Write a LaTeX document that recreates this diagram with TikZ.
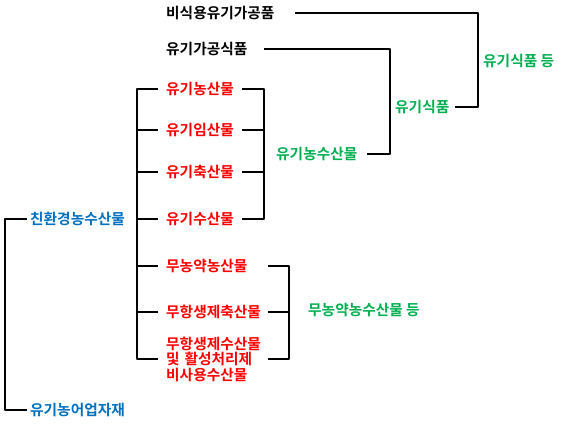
\documentclass[tikz,border=0pt]{standalone}
\usepackage{fontspec}
\setmainfont{Noto Sans CJK KR}[BoldFont={Noto Sans CJK KR Bold}]
\usepackage{tikz}
\definecolor{ecoblue}{RGB}{0,112,192}
\definecolor{orggreen}{RGB}{0,176,80}

\begin{document}
\begin{tikzpicture}[x=1pt, y=-1pt]
			\tikzstyle{label} = [anchor=west, inner sep=0pt, font=\fontsize{14.7}{15.5}\selectfont\bfseries];
			\tikzstyle{item} = [label, text=red, inner xsep=8pt];
			\tikzstyle{group} = [label, text=orggreen];
			\tikzstyle{link} = [line width=2pt, line join=round];
			\useasboundingbox (0,0) rectangle (569,430);
			\node (nonfood) [label] at (166,13) {비식용유기가공품};
			\node (procfood) [label] at (166,49) {유기가공식품};
			\node (agri) [item] at (158,89) {유기농산물};
			\node (forest) [item] at (158,130) {유기임산물};
			\node (live) [item] at (158,172) {유기축산물};
			\node (fish) [item] at (158,219) {유기수산물};
			\node (npagri) [item, text width=94pt] at (158,266) {무농약농산물};
			\node (nalive) [item, text width=94pt] at (158,312) {무항생제축산물};
			\node (nafish) [item, text width=94pt, align=left] at (158,359) {무항생제수산물\\및 활성처리제\\비사용수산물};
			\node (eco) [label, text=ecoblue, inner xsep=3pt] at (27,219) {친환경농수산물};
			\node (material) [label, text=ecoblue, inner xsep=3pt] at (27,410) {유기농어업자재};
			\node (orgagri) [group] at (276,154) {유기농수산물};
			\node (orgfood) [group] at (395,107) {유기식품};
			\node (orgetc) [group] at (483,61) {유기식품 등};
			\node (nopest) [group] at (308,310) {무농약농수산물 등};
			\draw [link] (eco.west) -- ++(-22,0) |- (material.west);
			\draw [link] (agri.west) -- ++(-21,0) |- (nafish.west);
			\foreach \n in {forest,live,fish,npagri,nalive}
				\draw [link] (\n.west) -- ++(-21,0);
			\draw [link] (agri.east) -- ++(22,0) |- (fish.east);
			\foreach \n in {forest,live}
				\draw [link] (\n.east) -- ++(22,0);
			\draw [link] (npagri.east) -- ++(21,0) |- (nafish.east);
			\draw [link] (nalive.east) -- ++(21,0);
			\draw [link] ([xshift=9pt]orgagri.east) -- ++(23,0) |- ([xshift=16pt]procfood.east);
			\draw [link] ([xshift=5pt]orgfood.east) -- ++(23,0) |- ([xshift=20pt]nonfood.east);
		\end{tikzpicture}
\end{document}
